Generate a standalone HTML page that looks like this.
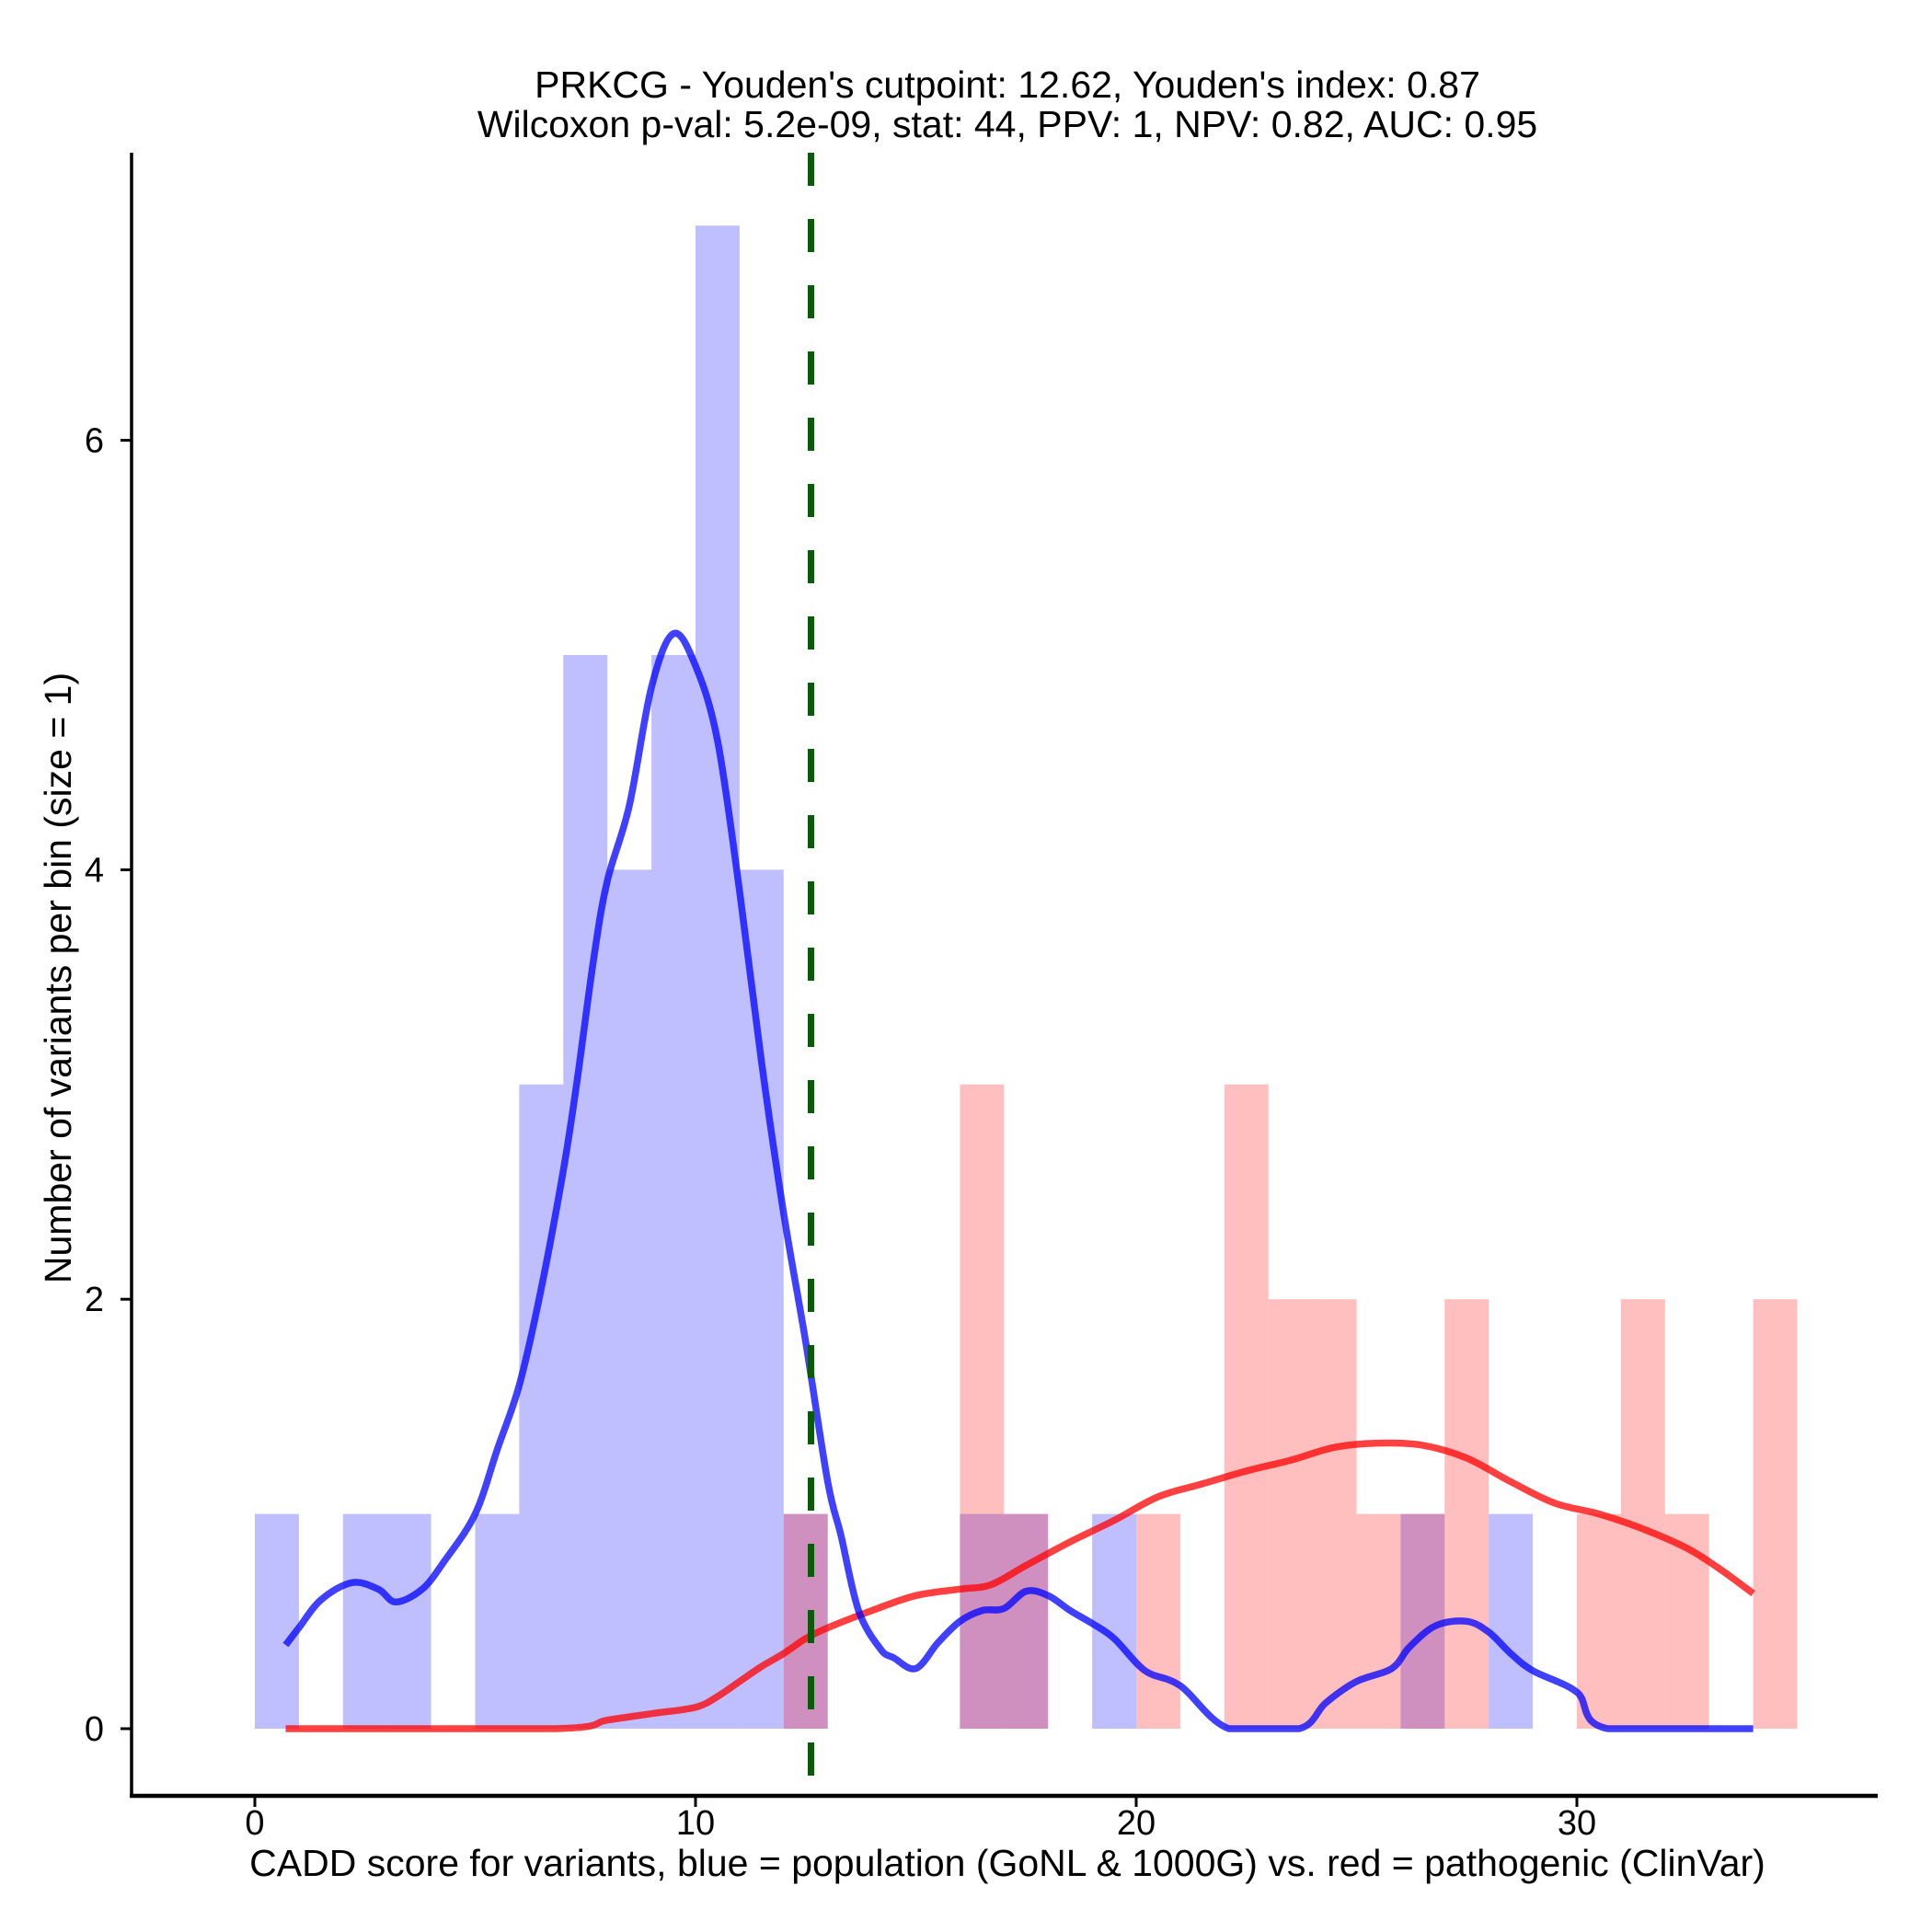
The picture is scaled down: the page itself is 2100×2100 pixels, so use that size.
<!DOCTYPE html>
<html><head><meta charset="utf-8"><style>
html,body{margin:0;padding:0;background:#fff}
svg{display:block;font-family:"Liberation Sans",Arial,sans-serif}
</style></head><body>
<svg id="chart" width="2100" height="2100" viewBox="0 0 2100 2100" xmlns="http://www.w3.org/2000/svg">
<text x="1095" y="106" font-size="41" text-anchor="middle">PRKCG - Youden's cutpoint: 12.62, Youden's index: 0.87</text>
<text x="1095" y="149" font-size="41" text-anchor="middle">Wilcoxon p-val: 5.2e-09, stat: 44, PPV: 1, NPV: 0.82, AUC: 0.95</text>
<g id="bars"></g>
<g id="lines"></g>
<g id="axes"></g>
<text x="1095" y="2039" font-size="41" text-anchor="middle">CADD score for variants, blue = population (GoNL &amp; 1000G) vs. red = pathogenic (ClinVar)</text>
<text transform="translate(77,1063) rotate(-90)" font-size="41" text-anchor="middle">Number of variants per bin (size = 1)</text>
</svg>
<script>
const binStarts = [0,1,2,3,4,5,6,7,8,9,10,11,12,13,14,15,16,17,18,19,20,21,22,23,24,25,26,27,28,29,30,31,32,33,34];
const blueCounts = [1,0,1,1,0,1,3,5,4,5,7,4,1,0,0,0,1,1,0,1,0,0,0,0,0,0,1,0,1,0,0,0,0,0,0];
const redCounts  = [0,0,0,0,0,0,0,0,0,0,0,0,1,0,0,0,3,1,0,0,1,0,3,2,2,1,1,2,0,0,1,2,1,0,2];
const blueDensX = [0.7,1,1.5,2.2,2.8,3.2,3.8,4.3,5,5.5,6,6.5,7,7.3,7.7,8,8.5,9,9.5,10,10.5,11,11.5,12,12.5,13,13.3,13.7,14.2,14.5,15,15.5,16,16.5,17,17.5,18,18.5,19,19.5,20.2,21,22.1,23.7,24.3,25,25.8,26.2,26.8,27.5,28,28.5,29,30,30.7,34];
const blueDensY = [0.39,0.47,0.6,0.68,0.65,0.59,0.65,0.78,1.0,1.3,1.6,2.05,2.6,3.0,3.6,3.95,4.3,4.85,5.1,4.95,4.6,3.9,3.1,2.4,1.8,1.15,0.9,0.55,0.37,0.33,0.28,0.4,0.5,0.55,0.56,0.64,0.62,0.55,0.49,0.42,0.27,0.2,0,0,0.12,0.22,0.28,0.38,0.48,0.5,0.45,0.35,0.27,0.17,0,0];
const redDensX = [0.7,6.8,8,9,10,10.5,11,11.5,12,12.5,13,14,15,16,16.7,17.5,18.5,19.5,20.5,21.5,22.5,23.5,24.5,25.5,26.5,27.5,28.5,29.5,30.5,31.5,32.5,33.2,34];
const redDensY = [0,0,0.04,0.07,0.1,0.15,0.22,0.29,0.35,0.42,0.47,0.55,0.62,0.65,0.67,0.76,0.87,0.97,1.08,1.14,1.2,1.25,1.31,1.33,1.32,1.26,1.15,1.05,1.0,0.93,0.84,0.75,0.63];
const cutpoint = 12.62;
const xTicks = [0,10,20,30];
const yTicks = [0,2,4,6];

const NS = 'http://www.w3.org/2000/svg';
const X = v => 277 + v * 47.9;
const Y = v => 1879 - v * 233.4;
function mk(tag, attrs, parent){ const e=document.createElementNS(NS,tag); for(const k in attrs) e.setAttribute(k,attrs[k]); parent.appendChild(e); return e; }
const bars = document.getElementById('bars'), lines = document.getElementById('lines'), axes = document.getElementById('axes');

binStarts.forEach((b,i)=>{
  if(blueCounts[i]>0){
    const r = mk('rect',{x:X(b),y:Y(blueCounts[i]),width:X(b+1)-X(b),height:Y(0)-Y(blueCounts[i]),fill:'rgb(0,0,255)','fill-opacity':0.25},bars);
    
    
  }
});
binStarts.forEach((b,i)=>{
  if(redCounts[i]>0){
    const r = mk('rect',{x:X(b),y:Y(redCounts[i]),width:X(b+1)-X(b),height:Y(0)-Y(redCounts[i]),fill:'rgb(255,0,0)','fill-opacity':0.25},bars);
    
    
  }
});
function pathOf(xs,ys){
  const p = xs.map((x,i)=>[X(x),Y(ys[i])]);
  let d = 'M'+p[0][0].toFixed(1)+','+p[0][1].toFixed(1);
  for(let i=0;i<p.length-1;i++){
    const p0=p[Math.max(0,i-1)], p1=p[i], p2=p[i+1], p3=p[Math.min(p.length-1,i+2)];
    const c1=[p1[0]+(p2[0]-p0[0])/6, p1[1]+(p2[1]-p0[1])/6];
    const c2=[p2[0]-(p3[0]-p1[0])/6, p2[1]-(p3[1]-p1[1])/6];
    c1[1]=Math.min(c1[1],Y(0)); c2[1]=Math.min(c2[1],Y(0));
    d += 'C'+c1[0].toFixed(1)+','+c1[1].toFixed(1)+' '+c2[0].toFixed(1)+','+c2[1].toFixed(1)+' '+p2[0].toFixed(1)+','+p2[1].toFixed(1);
  }
  return d;
}
const rl = mk('path',{d:pathOf(redDensX,redDensY),fill:'none',stroke:'rgb(255,0,0)','stroke-opacity':0.75,'stroke-width':7.5,'stroke-linejoin':'round'},lines);


const bl = mk('path',{d:pathOf(blueDensX,blueDensY),fill:'none',stroke:'rgb(0,0,255)','stroke-opacity':0.75,'stroke-width':7.5,'stroke-linejoin':'round'},lines);


const cl = mk('line',{x1:X(cutpoint),x2:X(cutpoint),y1:166,y2:1962,stroke:'#0b5a0b','stroke-width':7,'stroke-dasharray':'36 36'},lines);



const ya = mk('line',{x1:143,x2:143,y1:166,y2:1953,stroke:'#000','stroke-width':3.5},axes);


const xa = mk('line',{x1:141,x2:2041,y1:1952,y2:1952,stroke:'#000','stroke-width':4.5},axes);


xTicks.forEach(t=>{
  const l = mk('line',{x1:X(t),x2:X(t),y1:1952,y2:1964,stroke:'#000','stroke-width':3},axes);
  
  
  const tx = mk('text',{x:X(t),y:1994,'font-size':38,'text-anchor':'middle'},axes);
  tx.textContent = t;
  
  
});
yTicks.forEach(t=>{
  const l = mk('line',{x1:131,x2:143,y1:Y(t),y2:Y(t),stroke:'#000','stroke-width':3},axes);
  
  
  const tx = mk('text',{x:113,y:Y(t)+13,'font-size':38,'text-anchor':'end'},axes);
  tx.textContent = t;
  
  
});
</script>
</body></html>
